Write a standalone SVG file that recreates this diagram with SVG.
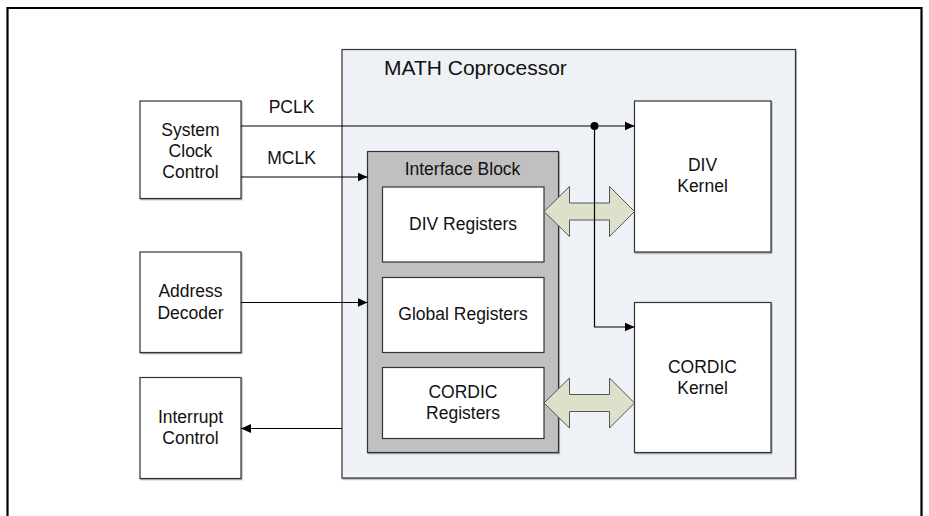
<svg xmlns="http://www.w3.org/2000/svg" width="929" height="516" viewBox="0 0 929 516">
<defs>
<marker id="arr" viewBox="0 0 10 10" refX="10" refY="5" markerWidth="10" markerHeight="10" markerUnits="userSpaceOnUse" orient="auto">
<path d="M0,0.5 L10,5 L0,9.5 z" fill="#000"/>
</marker>
<filter id="sh" x="-5%" y="-5%" width="110%" height="110%">
<feDropShadow dx="0.8" dy="1.2" stdDeviation="0.4" flood-color="#000" flood-opacity="0.35"/>
</filter>
</defs>
<style>
text{font-family:"Liberation Sans",Arial,sans-serif;font-size:17.5px;fill:#111;text-anchor:middle}
.box{fill:#fff;stroke:#333;stroke-width:1.2}
.line{fill:none;stroke:#000;stroke-width:1.2}
.dbl{fill:#DDE1CB;stroke:#555;stroke-width:1}
</style>
<rect x="0" y="0" width="929" height="516" fill="#fff"/>
<path d="M7.5,516 V8 H921.5 V516" fill="none" stroke="#000" stroke-width="2.2"/>

<g id="math">
<rect x="342" y="49.5" width="453.5" height="428.5" fill="#EEF1F6" stroke="#333" stroke-width="1.2" filter="url(#sh)"/>
<text x="384" y="74.5" style="font-size:21px;text-anchor:start">MATH Coprocessor</text>
</g>

<g id="sysclk">
<rect class="box" x="140" y="101" width="101" height="97.5" filter="url(#sh)"/>
<text x="190.5" y="136">System</text>
<text x="190.5" y="157">Clock</text>
<text x="190.5" y="178">Control</text>
</g>

<g id="addrdec">
<rect class="box" x="140" y="252" width="101" height="100.5" filter="url(#sh)"/>
<text x="190.5" y="297">Address</text>
<text x="190.5" y="318.5">Decoder</text>
</g>

<g id="intctrl">
<rect class="box" x="140" y="377.5" width="101" height="101" filter="url(#sh)"/>
<text x="190.5" y="423">Interrupt</text>
<text x="190.5" y="443.5">Control</text>
</g>

<g id="ifblock">
<rect x="367.5" y="151.5" width="191" height="301" fill="#C0C0C0" stroke="#333" stroke-width="1.2" filter="url(#sh)"/>
<text x="462.5" y="175">Interface Block</text>
</g>

<g id="divreg">
<rect class="box" x="382.5" y="187" width="161.5" height="75"/>
<text x="463" y="229.5">DIV Registers</text>
</g>

<g id="globreg">
<rect class="box" x="382.5" y="277.5" width="161.5" height="75"/>
<text x="463" y="320">Global Registers</text>
</g>

<g id="cordreg">
<rect class="box" x="382.5" y="367.5" width="161.5" height="71"/>
<text x="463" y="397.5">CORDIC</text>
<text x="463" y="419">Registers</text>
</g>

<g id="divkernel">
<rect class="box" x="634.5" y="101" width="136.5" height="151" filter="url(#sh)"/>
<text x="702.5" y="171">DIV</text>
<text x="702.5" y="192">Kernel</text>
</g>

<g id="cordkernel">
<rect class="box" x="634.5" y="302.5" width="136.5" height="150" filter="url(#sh)"/>
<text x="702.5" y="373">CORDIC</text>
<text x="702.5" y="394">Kernel</text>
</g>

<g id="connectors">
<path class="dbl" d="M544,211.5 L569.5,186.5 L569.5,203 L609.5,203 L609.5,186.5 L634.5,211.5 L609.5,236.5 L609.5,220 L569.5,220 L569.5,236.5 z"/>
<path class="dbl" d="M544,403 L569.5,378 L569.5,394.5 L609.5,394.5 L609.5,378 L634.5,403 L609.5,428 L609.5,411.5 L569.5,411.5 L569.5,428 z"/>
<line class="line" x1="241" y1="126" x2="634.5" y2="126" marker-end="url(#arr)"/>
<polyline class="line" points="594.5,126 594.5,327 634.5,327" marker-end="url(#arr)"/>
<circle cx="594.5" cy="126" r="4" fill="#000"/>
<line class="line" x1="241" y1="177" x2="367.5" y2="177" marker-end="url(#arr)"/>
<line class="line" x1="241" y1="302.5" x2="367.5" y2="302.5" marker-end="url(#arr)"/>
<line class="line" x1="342" y1="428.5" x2="241" y2="428.5" marker-end="url(#arr)"/>
<text x="291.5" y="112.5">PCLK</text>
<text x="291.5" y="164">MCLK</text>
</g>
</svg>
